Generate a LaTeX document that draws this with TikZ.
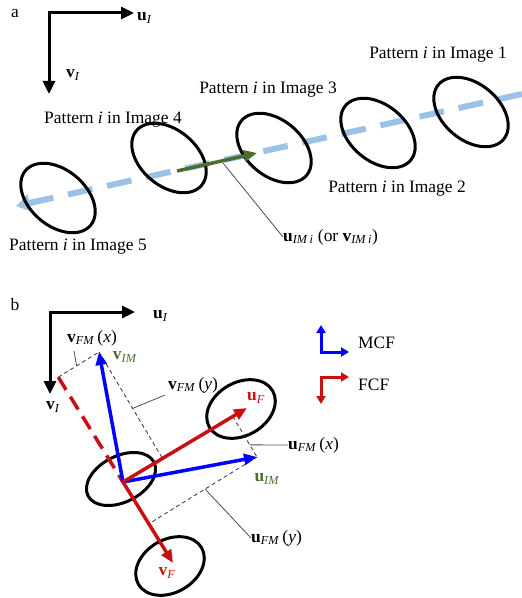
\documentclass[tikz,border=0pt]{standalone}
\usepackage{fontspec}
\setmainfont{Liberation Serif}
\usetikzlibrary{arrows.meta,shapes.geometric,calc}
\definecolor{trackblue}{RGB}{155,194,230}
\definecolor{vecgreen}{RGB}{75,110,45}
\definecolor{fcfred}{RGB}{200,16,16}
\definecolor{mcfblue}{RGB}{0,0,255}
\newcommand{\vb}[2]{\textbf{#1}\textsubscript{\textit{#2}}}
\begin{document}
\begin{tikzpicture}[x=1bp,y=-1bp,
  every node/.style={font=\fontsize{17.5}{20}\selectfont, inner sep=0pt},
  axes/.style={line width=3bp, line join=miter,
    {Triangle[length=13bp,width=12bp]}-{Triangle[length=13bp,width=12bp]}},
  blob/.style={draw, ellipse, line width=3bp},
  pattern/.style={blob, minimum width=85bp, minimum height=56bp, rotate=-40},
  spot/.style={blob, minimum width=73bp, minimum height=53bp, rotate=30},
  origin spot/.style={blob, minimum width=74bp, minimum height=46bp, rotate=27},
  vec/.style={line width=3.5bp, -{Triangle[length=13bp,width=11bp]}},
  proj/.style={line width=0.8bp, black!80, dash pattern=on 4bp off 3bp},
  leader/.style={line width=0.8bp, black!70},
  legend/.style={line width=3bp, line join=miter,
    {Triangle[length=8bp,width=9bp]}-{Triangle[length=8bp,width=9bp]}}]
\useasboundingbox (0,0) rectangle (522,598);

% ---------- (a) pattern tracked through the image sequence ----------
\node (la) at (15,13) {a};
\coordinate (aO) at (49,13);
\coordinate (aU) at (134,13);
\coordinate (aV) at (49,94);
\draw[axes] (aV) -- (aO) -- (aU);
\node[anchor=west] (aUl) at (137,18) {\vb{u}{I}};
\node (aVl) at (73,75) {\vb{v}{I}};

% displacement track of the pattern
\coordinate (tr1) at (522,94);
\coordinate (tr0) at (16,206);
\draw[trackblue, line width=6bp, dash pattern=on 25bp off 15bp,
  -{Triangle[length=14bp,width=17bp]}] (tr1) -- (tr0);

\node[pattern] (p1) at (471,112) {};
\node[pattern] (p2) at (378,133) {};
\node[pattern] (p3) at (274,148) {};
\node[pattern] (p4) at (169,158) {};
\node[pattern] (p5) at (58,198) {};

\node (t1) at (438,55) {Pattern \textit{i} in Image 1};
\node (t2) at (397,189) {Pattern \textit{i} in Image 2};
\node (t3) at (268,90) {Pattern \textit{i} in Image 3};
\node (t4) at (113,120) {Pattern \textit{i} in Image 4};
\node (t5) at (78,247) {Pattern \textit{i} in Image 5};

% frame-to-frame displacement vector
\coordinate (g0) at (177,171);
\coordinate (g1) at (257,153);
\draw[vecgreen, vec] (g0) -- (g1);
\coordinate (gl) at (223,163);
\node[anchor=west] (lIM) at (283,237)
  {\textbf{u}\textsubscript{\textit{IM}\,\textit{i}} (or \textbf{v}\textsubscript{\textit{IM}\,\textit{i}})};
\draw[leader] (gl) -- (lIM.west);

% ---------- (b) moving and fixed coordinate frames ----------
\node (lb) at (15,305) {b};
\coordinate (bO) at (50,312);
\coordinate (bU) at (135,312);
\coordinate (bV) at (50,394);
\draw[axes] (bV) -- (bO) -- (bU);
\node[anchor=west] (bUl) at (153,316) {\vb{u}{I}};
\node (bVl) at (53,407) {\vb{v}{I}};

\node[origin spot] (eO) at (121,479) {};
\node[spot] (eU) at (241,409) {};
\node[spot] (eV) at (170,566) {};

\coordinate (O) at (123,482);
\coordinate (vIM) at (99,352);
\coordinate (uIM) at (257,457);
\coordinate (uF) at (247,408);
\coordinate (vF) at (173,563);

% projections of the MCF vectors on the FCF axes
\coordinate (rtop) at ($(O)!(vIM)!(vF)$);
\coordinate (pv) at ($(O)!(vIM)!(uF)$);
\coordinate (pu) at ($(O)!(uIM)!(uF)$);
\coordinate (qu) at ($(O)!(uIM)!(vF)$);

\draw[proj] (rtop) -- (vIM);
\draw[proj] (vIM) -- (pv);
\draw[proj] (pu) -- (uIM);
\draw[proj] (uIM) -- (qu);

\draw[fcfred, line width=3.5bp, dash pattern=on 15bp off 8bp] (rtop) -- (O);
\draw[mcfblue, vec] (O) -- (vIM);
\draw[mcfblue, vec] (O) -- (uIM);
\draw[fcfred, vec] (O) -- (uF);
\draw[fcfred, vec] (O) -- (vF);

\node[text=vecgreen] (vIMl) at (125,357) {\vb{v}{IM}};
\node[text=vecgreen] (uIMl) at (267,479) {\vb{u}{IM}};
\node[text=fcfred] (uFl) at (256,398) {\vb{u}{F}};
\node[text=fcfred] (vFl) at (167,573) {\vb{v}{F}};

% component labels with their leader lines
\node (vx) at (92,338) {\vb{v}{FM}\,(\textit{x})};
\coordinate (vxa) at ($(rtop)!0.45!(vIM)$);
\coordinate (vxb) at (74,351);
\draw[leader] (vxa) -- (vxb);

\node[anchor=west] (vy) at (168,385) {\vb{v}{FM}\,(\textit{y})};
\coordinate (vya) at ($(vIM)!0.53!(pv)$);
\coordinate (vyb) at (165,395);
\draw[leader] (vya) -- (vyb);

\node[anchor=west] (ux) at (288,445) {\vb{u}{FM}\,(\textit{x})};
\coordinate (uxa) at ($(pu)!0.7!(uIM)$);
\draw[leader] (uxa) -- (ux.west);

\node[anchor=west] (uy) at (251,538) {\vb{u}{FM}\,(\textit{y})};
\coordinate (uya) at ($(uIM)!0.48!(qu)$);
\draw[leader] (uya) -- (uy.west);

% legend
\coordinate (m0) at (321,352);
\coordinate (mU) at (349,352);
\coordinate (mV) at (321,325);
\draw[mcfblue, legend] (mV) -- (m0) -- (mU);
\node[anchor=west] (mcf) at (358,343) {MCF};

\coordinate (f0) at (321,377);
\coordinate (fU) at (349,377);
\coordinate (fV) at (321,404);
\draw[fcfred, legend] (fV) -- (f0) -- (fU);
\node[anchor=west] (fcf) at (358,385) {FCF};
\end{tikzpicture}
\end{document}
